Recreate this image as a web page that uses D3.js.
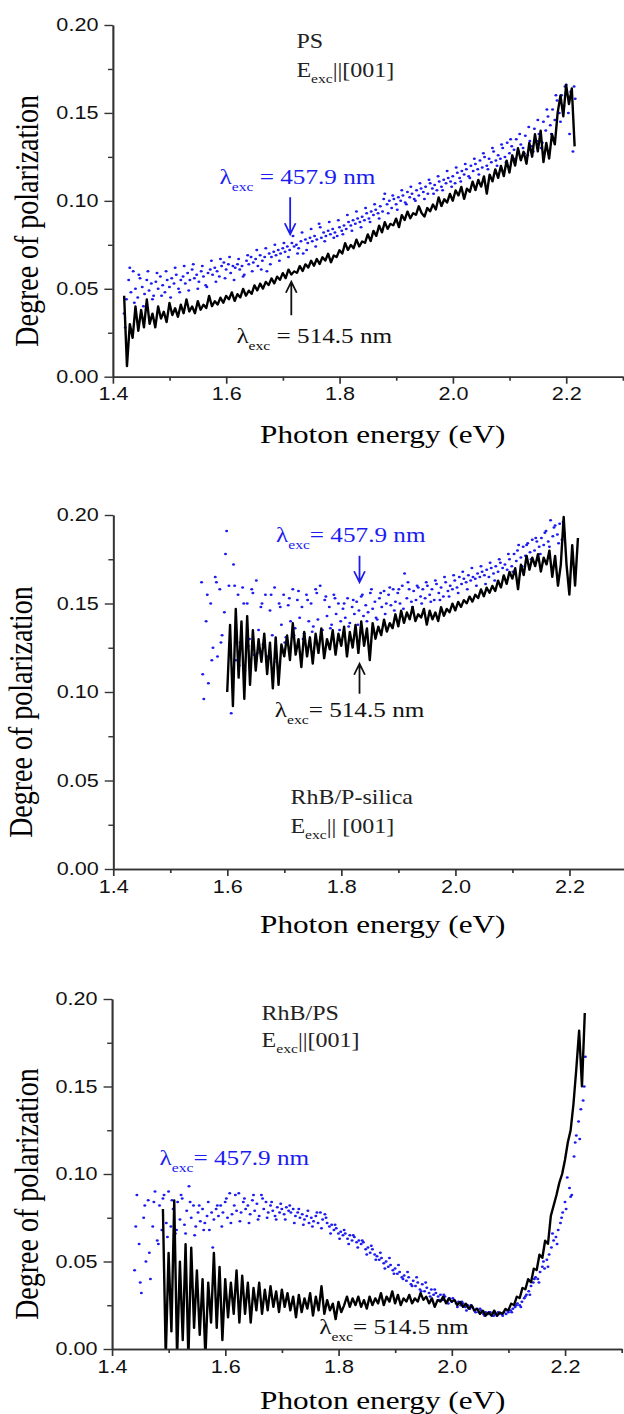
<!DOCTYPE html>
<html>
<head>
<meta charset="utf-8">
<script src="https://cdn.jsdelivr.net/npm/d3@7"></script>
<style>
body { margin: 0; background: #fff; }
</style>
</head>
<body>
<script>
// tick values shared by the three panels
var xTicks = [1.4, 1.6, 1.8, 2.0, 2.2];
var xMinor = [1.5, 1.7, 1.9, 2.1, 2.3];
var yTicks = [0, 0.05, 0.10, 0.15, 0.20];
var yMinor = [0.025, 0.075, 0.125, 0.175];

// degree of polarization, in units of 1e-3, on an even energy grid (start, step in eV)
// panel 1 : PS
var psRedStart = 1.420, psRedStep = 0.005;
var psRed = [46,6,30,22,40,26,38,28,44,30,36,28,40,33,37,31,42,35,39,34,
  41,36,44,37,40,36,43,38,41,39,46,40,43,41,45,42,46,44,48,43,
  47,45,50,46,49,47,52,49,53,50,54,52,56,53,57,55,59,56,61,58,
  60,59,63,60,64,62,66,63,67,64,68,66,70,65,69,68,72,70,76,72,
  75,73,78,74,77,76,81,77,83,80,86,82,88,84,87,86,90,85,92,89,
  94,90,93,92,97,93,91,96,94,98,95,102,97,101,99,104,100,106,103,108,
  101,107,105,111,106,112,108,114,104,115,111,118,113,120,114,123,116,126,120,130,
  123,128,121,133,125,138,128,140,122,133,124,138,132,150,160,148,166,155,164,131];
var psBlueStart = 1.420, psBlueStep = 0.004;
var psBlue = [36,44,55,48,60,50,45,56,51,47,55,49,53,46,54,50,57,52,48,55,
  51,56,53,58,50,55,57,53,59,55,61,56,58,54,60,57,52,59,61,58,
  62,60,57,63,65,61,64,59,63,62,64,61,63,58,66,64,68,65,67,63,
  69,66,68,60,70,68,71,69,72,70,73,71,74,72,76,74,75,73,77,70,
  78,76,79,77,80,78,87,79,82,80,83,81,84,82,80,85,83,86,84,88,
  86,89,87,90,88,91,89,93,90,94,92,95,93,97,94,104,98,100,96,101,
  98,102,100,103,99,105,102,104,101,106,103,107,105,108,104,110,107,109,106,111,
  108,112,110,113,111,114,110,116,113,117,115,118,114,120,117,121,118,123,119,125,
  120,124,122,128,123,126,124,130,125,133,127,131,129,135,128,132,130,137,126,134,
  131,141,134,138,130,145,140,148,143,152,146,157,150,160,154,166,150,162,128,158];
var psBlue2Start = 1.422, psBlue2Step = 0.008;
var psBlue2 = [28,62,42,58,40,60,44,59,46,60,45,62,48,63,49,64,50,63,51,66,
  54,67,56,68,55,67,57,69,60,72,61,73,64,75,66,76,68,80,70,82,
  72,84,74,85,77,88,79,89,81,92,83,94,85,96,88,98,90,101,93,103,
  95,106,98,108,100,110,101,112,104,114,106,117,108,119,111,121,113,124,115,127,
  118,130,120,132,122,135,124,138,127,142,128,146,133,152,138,160,145,165,138,165];

// panel 2 : RhB/P-silica
var psiRedStart = 1.600, psiRedStep = 0.005;
var psiRed = [100,138,92,147,108,140,96,143,104,135,112,130,117,133,110,128,102,131,104,127,
  120,132,118,139,121,130,114,134,120,131,116,133,122,136,119,130,124,135,121,133,
  126,137,120,134,125,138,122,140,126,136,118,139,130,137,132,141,134,139,136,144,
  137,146,139,145,141,148,140,144,142,147,138,146,141,145,140,148,143,147,145,150,
  146,151,148,152,150,154,151,155,153,158,154,159,156,160,157,163,159,166,161,168,
  164,170,158,172,166,177,169,176,171,178,168,176,172,180,165,177,160,172,199,172,
  155,183,160,187];
var psiBlueStart = 1.555, psiBlueStep = 0.004;
var psiBlue = [162,96,140,105,150,125,165,120,158,132,145,191,160,88,172,118,155,128,159,112,
  150,130,158,121,163,135,148,127,155,120,146,132,159,117,150,138,155,131,149,140,
  158,136,152,142,148,133,155,140,150,137,158,141,160,135,152,143,148,138,155,144,
  150,140,147,142,153,139,148,144,151,146,154,143,149,145,156,147,151,141,153,148,
  157,150,155,149,158,151,156,150,160,167,153,158,151,157,152,159,154,158,153,160,
  155,158,152,161,156,159,154,162,157,160,158,163,159,165,161,164,162,166,163,165,
  164,167,165,168,166,169,165,170,167,171,168,173,170,172,169,175,171,178,174,183,
  176,182,177,184,179,186,180,185,182,187,183,191,185,197,188,194,189,195,186,190];
var psiBlue2Start = 1.557, psiBlue2Step = 0.008;
var psiBlue2 = [110,155,118,162,128,178,125,160,115,150,126,156,122,150,118,155,125,148,128,153,
  132,157,130,152,134,156,131,154,136,153,135,150,137,152,138,155,140,158,142,156,
  144,159,146,158,147,162,148,160,150,162,151,163,152,165,154,166,156,168,158,170,
  160,171,161,173,163,175,165,178,168,180,171,183,175,187,178,190,182,193,184,196];

// panel 3 : RhB/PS
var rpsRedStart = 1.490, rpsRedStep = 0.005;
var rpsRed = [80,-5,55,10,85,-5,50,5,60,-5,58,12,45,8,40,-5,38,15,55,12,
  47,5,40,18,38,20,45,15,42,20,38,15,35,22,38,20,34,22,36,24,
  33,21,34,24,32,22,30,18,31,21,29,23,32,19,30,22,36,20,28,22,
  26,17,27,21,25,30,24,29,25,30,24,28,23,30,25,29,26,32,25,30,
  27,33,26,31,25,29,27,31,26,29,27,32,28,30,26,29,24,28,27,30,
  26,29,27,28,25,27,24,26,23,25,22,23,20,22,19,21,19,22,19,21,
  20,23,22,26,25,30,29,35,34,40,38,46,45,54,52,62,60,76,82,88,
  95,100,108,118,125,140,160,182,150,192];
var rpsBlueStart = 1.440, rpsBlueStep = 0.004;
var rpsBlue = [45,88,60,32,75,50,85,40,70,90,62,82,68,88,72,90,70,80,66,84,
  74,86,71,79,93,75,82,70,78,73,80,72,76,68,78,74,80,76,82,78,
  84,75,89,77,82,79,89,78,84,80,82,77,85,79,83,76,88,80,84,78,
  82,79,76,81,78,80,77,81,79,78,80,76,78,75,77,74,76,72,75,73,
  76,72,78,74,77,72,70,71,68,69,66,67,65,66,63,65,62,64,61,62,
  60,61,57,58,55,57,54,53,51,52,49,50,47,48,45,46,43,44,41,42,
  39,41,37,39,36,38,34,37,33,35,32,34,31,32,30,31,28,30,27,29,
  27,28,26,27,25,26,24,25,23,24,22,23,21,22,20,21,20,21,19,20,
  19,20,20,21,20,21,22,23,24,26,25,27,29,31,33,36,38,41,40,44,
  47,46,51,54,58,62,64,68,72,78,84,98,92,88,110,122,130,137,142,167];
var rpsBlue2Start = 1.442, rpsBlue2Step = 0.008;
var rpsBlue2 = [70,38,82,55,84,60,86,64,85,68,88,66,84,65,82,68,84,58,82,70,
  86,72,88,73,86,72,88,74,86,75,84,74,83,74,82,72,80,71,79,70,
  78,69,75,66,71,63,68,60,65,58,62,54,59,51,55,46,52,43,48,40,
  44,36,41,33,38,30,34,28,31,26,29,24,27,22,25,21,23,19,21,19,
  21,19,22,21,25,24,30,31,40,38,50,47,66,60,75,80,87,118,120,150];

var serif = "'Liberation Serif', 'Times New Roman', serif";
var sans = "'Liberation Sans', Arial, sans-serif";
var blue = "#1c1cf0";

// the figure is laid out on a 520 px wide frame, then stretched to 624 px
var panels = [
  {top: 25, bottom: 376.7, left: 94, right: 519,
   red: psRed, redStart: psRedStart, redStep: psRedStep,
   blues: [[psBlue, psBlueStart, psBlueStep], [psBlue2, psBlue2Start, psBlue2Step]],
   titleY: 443, ytitleX: 32,
   notes: [{x: 247, y: 48, t: "PS"}, {x: 247, y: 77, t: "E", sub: "exc", rest: "||[001]"}],
   blueLab: {x: 183, y: 184, rest: " = 457.9 nm"}, redLab: {x: 197, y: 343, rest: " = 514.5 nm"},
   blueArrow: {e: 1.713, from: 0.102, to: 0.081}, redArrow: {e: 1.715, from: 0.035, to: 0.054}},
  {top: 515, bottom: 869, left: 94.3, right: 522,
   red: psiRed, redStart: psiRedStart, redStep: psiRedStep,
   blues: [[psiBlue, psiBlueStart, psiBlueStep], [psiBlue2, psiBlue2Start, psiBlue2Step]],
   titleY: 933, ytitleX: 27,
   notes: [{x: 242, y: 804, t: "RhB/P-silica"}, {x: 242, y: 833, t: "E", sub: "exc", rest: "|| [001]"}],
   blueLab: {x: 230, y: 542, rest: "= 457.9 nm"}, redLab: {x: 229, y: 717, rest: "= 514.5 nm"},
   blueArrow: {e: 1.832, from: 0.177, to: 0.162}, redArrow: {e: 1.832, from: 0.099, to: 0.116}},
  {top: 999, bottom: 1349, left: 93.3, right: 518,
   red: rpsRed, redStart: rpsRedStart, redStep: rpsRedStep,
   blues: [[rpsBlue, rpsBlueStart, rpsBlueStep], [rpsBlue2, rpsBlue2Start, rpsBlue2Step]],
   titleY: 1409, ytitleX: 32,
   notes: [{x: 218, y: 1020, t: "RhB/PS"}, {x: 218, y: 1047, t: "E", sub: "exc", rest: "||[001]"}],
   blueLab: {x: 133, y: 1165, rest: "= 457.9 nm"}, redLab: {x: 266, y: 1334, rest: "= 514.5 nm"}}
];

var svg = d3.select("body").append("svg").attr("width", 624).attr("height", 1414);
var root = svg.append("g").attr("transform", "scale(1.2,1)");

function lambdaLabel(g, lab, color) {
  var t = g.append("text").attr("x", lab.x).attr("y", lab.y)
    .attr("font-family", serif).attr("font-size", 21).attr("fill", color);
  t.append("tspan").text("λ");
  t.append("tspan").attr("font-size", 13).attr("dy", 7).text("exc");
  t.append("tspan").attr("dy", -7).text(lab.rest);
}

function arrow(g, x, y, a, color) {
  var x0 = x(a.e), y1 = y(a.from), y2 = y(a.to);
  var d = y2 > y1 ? -1 : 1;
  g.append("path")
    .attr("d", "M" + x0 + "," + y1 + "L" + x0 + "," + y2 +
      "M" + (x0 - 4.5) + "," + (y2 + d * 11) + "L" + x0 + "," + y2 + "L" + (x0 + 4.5) + "," + (y2 + d * 11))
    .attr("fill", "none").attr("stroke", color).attr("stroke-width", 1.5);
}

panels.forEach(function(p, k) {
  var x = d3.scaleLinear().domain([1.4, 2.3]).range([p.left, p.right]);
  var y = d3.scaleLinear().domain([0, 0.2]).range([p.bottom, p.top]);
  var g = root.append("g");

  g.append("clipPath").attr("id", "clip" + k).append("rect")
    .attr("x", p.left).attr("y", p.top - 20).attr("width", p.right - p.left).attr("height", p.bottom - p.top + 20);

  // blue dots (457.9 nm)
  var dots = g.append("g").attr("clip-path", "url(#clip" + k + ")");
  p.blues.forEach(function(s) {
    dots.append("g").selectAll("circle").data(s[0]).enter().append("circle")
      .attr("cx", function(d, i) { return x(s[1] + i * s[2]); })
      .attr("cy", function(d) { return y(d / 1000); })
      .attr("r", 1.25).attr("fill", blue);
  });

  // black line (514.5 nm)
  var line = d3.line()
    .x(function(d, i) { return x(p.redStart + i * p.redStep); })
    .y(function(d) { return y(d / 1000); });
  g.append("path").datum(p.red).attr("clip-path", "url(#clip" + k + ")")
    .attr("d", line).attr("fill", "none").attr("stroke", "#000")
    .attr("stroke-width", 2).attr("stroke-linejoin", "round");

  // axes
  var xa = g.append("g").attr("transform", "translate(0," + p.bottom + ")");
  xa.call(d3.axisBottom(x).tickValues(xTicks).tickSize(7).tickSizeOuter(0).tickPadding(4).tickFormat(d3.format(".1f")));
  xa.append("g").call(d3.axisBottom(x).tickValues(xMinor).tickSize(4).tickSizeOuter(0).tickFormat(""));
  var ya = g.append("g").attr("transform", "translate(" + p.left + ",0)");
  ya.call(d3.axisLeft(y).tickValues(yTicks).tickSize(7).tickSizeOuter(0).tickPadding(5).tickFormat(d3.format(".2f")));
  ya.append("g").call(d3.axisLeft(y).tickValues(yMinor).tickSize(4).tickSizeOuter(0).tickFormat(""));
  g.selectAll(".domain, .tick line").attr("stroke", "#333").attr("stroke-width", 1.4);
  g.selectAll(".tick text").attr("font-family", sans).attr("font-size", 18).attr("fill", "#111");

  g.append("text").attr("x", 319).attr("y", p.titleY).attr("text-anchor", "middle")
    .attr("font-family", serif).attr("font-size", 26).text("Photon energy (eV)");
  g.append("text").attr("transform", "translate(" + p.ytitleX + "," + ((p.top + p.bottom) / 2 + 20) + ") rotate(-90)")
    .attr("text-anchor", "middle").attr("font-family", serif).attr("font-size", 28).text("Degree of polarization");

  p.notes.forEach(function(n) {
    var t = g.append("text").attr("x", n.x).attr("y", n.y).attr("font-family", serif).attr("font-size", 20).attr("fill", "#222");
    t.append("tspan").text(n.t);
    if (n.sub) {
      t.append("tspan").attr("font-size", 13).attr("dy", 6).text(n.sub);
      t.append("tspan").attr("dy", -6).text(n.rest);
    }
  });

  lambdaLabel(g, p.blueLab, blue);
  lambdaLabel(g, p.redLab, "#111");
  if (p.blueArrow) arrow(g, x, y, p.blueArrow, blue);
  if (p.redArrow) arrow(g, x, y, p.redArrow, "#111");
});
</script>
</body>
</html>
